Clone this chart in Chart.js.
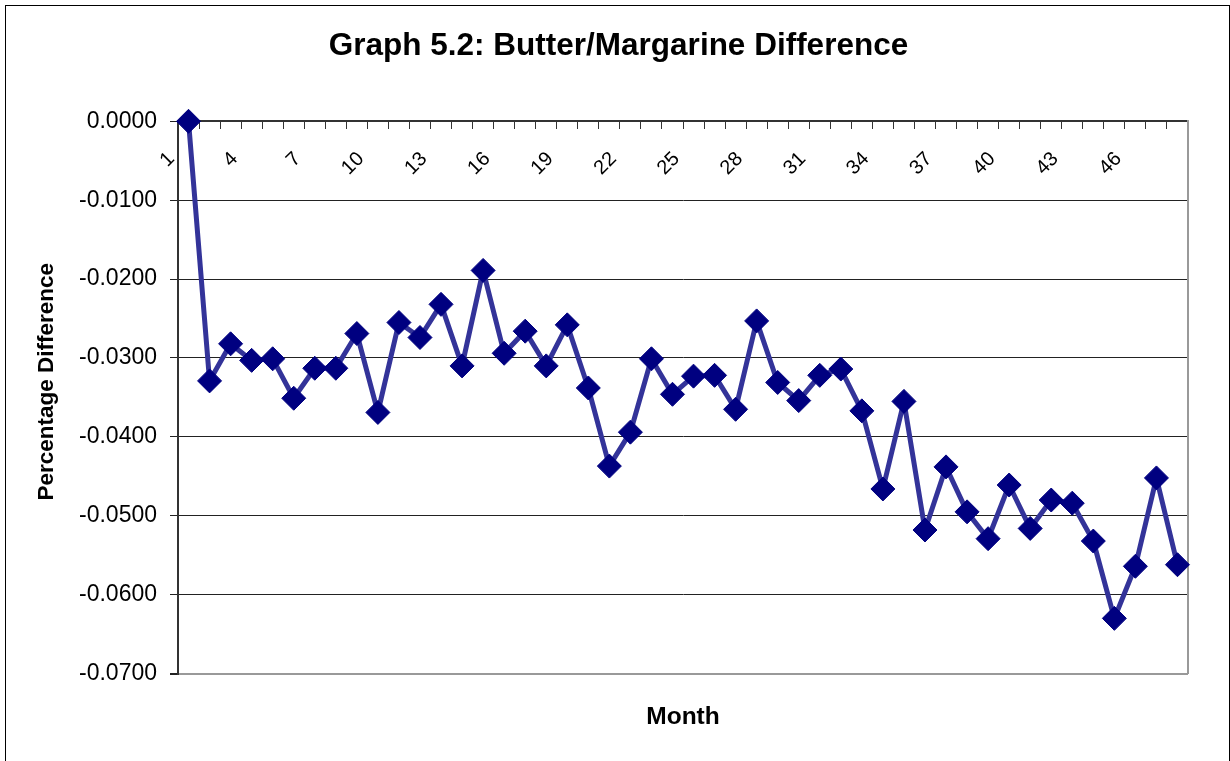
<!DOCTYPE html>
<html>
<head>
<meta charset="utf-8">
<title>Graph 5.2: Butter/Margarine Difference</title>
<script src="https://cdn.jsdelivr.net/npm/chart.js@4/dist/chart.umd.min.js"></script>
<style>
    body{
        margin:0;
        background:#fff;
        overflow:hidden;
    }
    #frame{
        position:absolute;
        left:5px;
        top:5px;
        width:1223px;
        height:790px;
        border:1px solid #000;
    }
    #chart{
        position:absolute;
        left:0;
        top:0;
    }
</style>
</head>
<body>

<div id="frame"></div>
<canvas id="chart" width="1230" height="761"></canvas>

<script>
const months = ['1','2','3','4','5','6','7','8','9','10','11','12',
    '13','14','15','16','17','18','19','20','21','22','23','24',
    '25','26','27','28','29','30','31','32','33','34','35','36',
    '37','38','39','40','41','42','43','44','45','46','47','48'];

const difference = [
    0.0000, -0.0329, -0.0282, -0.0303, -0.0301, -0.0351, -0.0313, -0.0313,
    -0.0269, -0.0369, -0.0255, -0.0274, -0.0232, -0.0310, -0.0189, -0.0294,
    -0.0266, -0.0310, -0.0258, -0.0338, -0.0437, -0.0394, -0.0301, -0.0346,
    -0.0323, -0.0322, -0.0365, -0.0253, -0.0331, -0.0354, -0.0322, -0.0314,
    -0.0367, -0.0466, -0.0355, -0.0518, -0.0438, -0.0495, -0.0529, -0.0461,
    -0.0516, -0.0480, -0.0484, -0.0532, -0.0630, -0.0564, -0.0452, -0.0562
];

const yMin = -0.07;
const yMax = 0;
const yStep = 0.01;

document.addEventListener("DOMContentLoaded", function () {

    initChart();

});

function initChart(){

    Chart.defaults.font.family = "'Liberation Sans', Arial, sans-serif";
    Chart.defaults.color = '#000';

    const ctx = document.getElementById("chart");

    new Chart(ctx, {
        type: 'line',
        data: {
            labels: months,
            datasets: [{
                label: 'Difference',
                data: difference,
                borderColor: '#333399',
                borderWidth: 5,
                tension: 0,
                pointStyle: 'rectRot',
                pointRadius: 12,
                pointBackgroundColor: '#000080',
                pointBorderColor: '#000080',
                pointBorderWidth: 1,
                clip: false,
                xAxisID: 'x',
                yAxisID: 'y'
            }]
        },
        options: {
            responsive: false,
            devicePixelRatio: 1,
            animation: false,
            layout: {
                padding: { top: 10, left: 7, right: 0, bottom: 0 }
            },
            plugins: {
                legend: { display: false },
                tooltip: { enabled: false },
                title: {
                    display: true,
                    text: 'Graph 5.2: Butter/Margarine Difference',
                    color: '#000',
                    font: { size: 31.5, weight: 'bold' },
                    padding: { top: 17.2, bottom: 56.3 }
                }
            },
            scales: {
                x: {
                    type: 'category',
                    position: { y: 0 },
                    offset: true,
                    grid: {
                        offset: true,
                        drawOnChartArea: false,
                        drawTicks: true,
                        tickLength: 7,
                        color: '#333',
                        lineWidth: 1
                    },
                    border: { color: '#333', width: 2 },
                    ticks: {
                        autoSkip: false,
                        minRotation: 45,
                        maxRotation: 45,
                        padding: 19,
                        labelOffset: -17,
                        font: { size: 20 },
                        color: '#000',
                        callback: function(value, index){
                            return index % 3 === 0 ? months[index] : '';
                        }
                    }
                },
                x2: {
                    type: 'category',
                    position: 'bottom',
                    labels: months,
                    grid: { display: false },
                    border: { display: false },
                    ticks: { display: false },
                    title: {
                        display: true,
                        text: 'Month',
                        color: '#000',
                        font: { size: 24.5, weight: 'bold' },
                        padding: { top: 20.6, bottom: 29.4 }
                    }
                },
                y: {
                    position: 'left',
                    min: yMin,
                    max: yMax,
                    afterFit: function(scale){
                        scale.width = 171;
                    },
                    grid: {
                        color: function(c){
                            return Math.abs(c.tick.value - yMin) < 1e-6 ? '#999' : '#222';
                        },
                        lineWidth: function(c){
                            return Math.abs(c.tick.value - yMin) < 1e-6 ? 2 : 1;
                        },
                        tickColor: '#222',
                        tickLength: 8
                    },
                    border: { color: '#333', width: 2 },
                    ticks: {
                        stepSize: yStep,
                        padding: 13,
                        font: { size: 23 },
                        color: '#000',
                        callback: function(value){
                            if(Math.abs(value) < 1e-9) return '0.0000';
                            return value.toFixed(4);
                        }
                    },
                    title: {
                        display: true,
                        // leading spaces lift the text a little, as in the original
                        text: '     Percentage Difference',
                        color: '#000',
                        font: { size: 22.5, weight: 'bold' },
                        padding: { top: 26.5, bottom: 0 }
                    }
                },
                y2: {
                    position: 'right',
                    afterFit: function(scale){
                        scale.width = 42;
                    },
                    grid: { display: false },
                    ticks: { display: false },
                    border: { color: '#999', width: 2 }
                }
            }
        }
    });

}
</script>
</body>
</html>
